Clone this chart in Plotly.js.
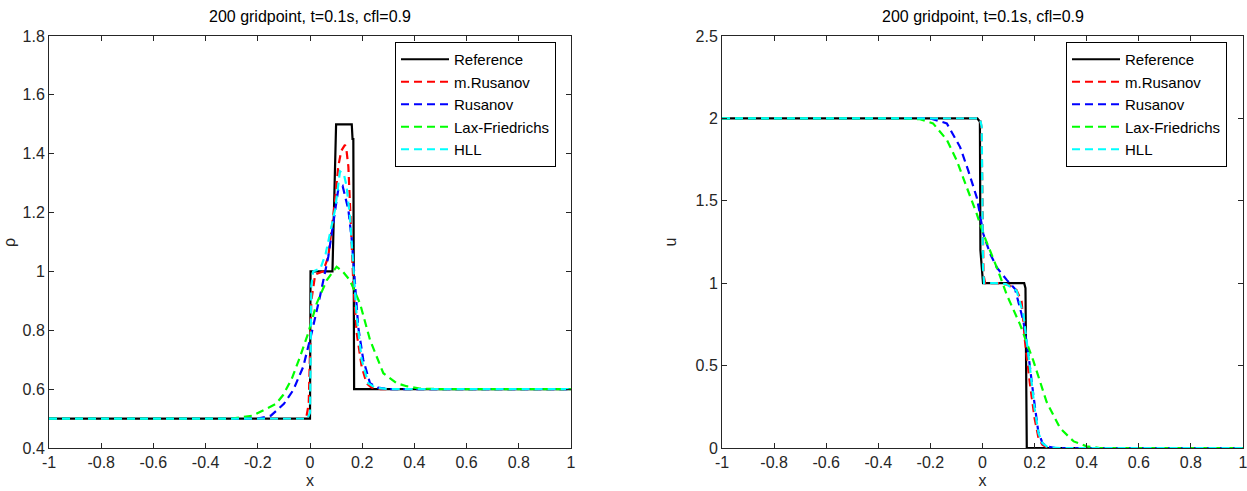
<!DOCTYPE html>
<html>
<head>
<meta charset="utf-8">
<script src="https://cdn.plot.ly/plotly-3.0.1.min.js"></script>
<style>html,body{margin:0;padding:0;background:#fff;}#chart{width:1247px;height:491px;}</style>
</head>
<body>
<div id="chart"></div>
<script>
// ---------- data ----------
const seriesNames = ["Reference", "m.Rusanov", "Rusanov", "Lax-Friedrichs", "HLL"];
const xTickVals = [-1, -0.8, -0.6, -0.4, -0.2, 0, 0.2, 0.4, 0.6, 0.8, 1];
const xTickText = ["-1", "-0.8", "-0.6", "-0.4", "-0.2", "0", "0.2", "0.4", "0.6", "0.8", "1"];
const rhoTickVals = [0.4, 0.6, 0.8, 1, 1.2, 1.4, 1.6, 1.8];
const uTickVals = [0, 0.5, 1, 1.5, 2, 2.5];
const plotTitle = "200 gridpoint, t=0.1s, cfl=0.9";

// density rho
const rhoRefX = [-1, 0, 0.002, 0.086, 0.1, 0.16, 0.163, 0.166, 0.169, 1];
const rhoRefY = [0.5, 0.5, 1.0, 1.0, 1.5, 1.5, 1.45, 1.45, 0.6, 0.6];
const rhoMRusX = [-1, -0.015, -0.005, 0.005, 0.02, 0.05, 0.07, 0.085, 0.096, 0.108, 0.12, 0.134, 0.14, 0.147, 0.157, 0.166, 0.179, 0.198, 0.217, 0.235, 0.27, 1];
const rhoMRusY = [0.5, 0.5, 0.55, 0.9, 0.99, 1.0, 1.05, 1.15, 1.24, 1.356, 1.41, 1.43, 1.41, 1.356, 1.13, 0.96, 0.79, 0.676, 0.62, 0.606, 0.6, 0.6];
const rhoRusX = [-1, -0.2, -0.15, -0.1, -0.064, -0.026, 0.006, 0.038, 0.07, 0.089, 0.108, 0.125, 0.147, 0.16, 0.172, 0.185, 0.204, 0.23, 0.26, 0.3, 1];
const rhoRusY = [0.5, 0.5, 0.51, 0.55, 0.597, 0.676, 0.79, 0.914, 1.05, 1.16, 1.277, 1.29, 1.21, 1.107, 0.948, 0.81, 0.70, 0.62, 0.605, 0.6, 0.6];
const rhoLxfX = [-1, -0.3, -0.22, -0.16, -0.13, -0.103, -0.07, -0.038, -0.007, 0.025, 0.064, 0.102, 0.125, 0.153, 0.192, 0.23, 0.281, 0.332, 0.37, 0.42, 0.5, 1];
const rhoLxfY = [0.5, 0.5, 0.51, 0.535, 0.55, 0.58, 0.635, 0.71, 0.79, 0.89, 0.97, 1.016, 1.0, 0.97, 0.89, 0.767, 0.654, 0.62, 0.61, 0.602, 0.6, 0.6];
const rhoHllX = [-1, -0.01, 0, 0.005, 0.012, 0.04, 0.06, 0.077, 0.096, 0.115, 0.13, 0.14, 0.153, 0.166, 0.179, 0.198, 0.223, 0.25, 0.3, 1];
const rhoHllY = [0.5, 0.5, 0.52, 0.95, 1.0, 1.01, 1.06, 1.13, 1.21, 1.34, 1.33, 1.29, 1.186, 1.016, 0.846, 0.70, 0.62, 0.605, 0.6, 0.6];

// velocity u
const uRefX = [-1, -0.02, -0.01, -0.008, 0.002, 0.16, 0.165, 0.17, 1];
const uRefY = [2, 2, 1.98, 1.2, 1.0, 1.0, 0.97, 0, 0];
const uMRusX = [-1, -0.01, -0.004, 0, 0.004, 0.01, 0.06, 0.1, 0.13, 0.15, 0.163, 0.182, 0.2, 0.215, 0.23, 0.25, 1];
const uMRusY = [2, 2, 1.95, 1.5, 1.05, 1.0, 1.0, 0.99, 0.96, 0.89, 0.65, 0.39, 0.18, 0.06, 0.02, 0, 0];
const uRusX = [-1, -0.2, -0.137, -0.086, -0.054, -0.022, -0.01, 0.003, 0.029, 0.055, 0.093, 0.125, 0.157, 0.176, 0.195, 0.214, 0.23, 0.246, 0.28, 1];
const uRusY = [2, 2, 1.97, 1.826, 1.68, 1.52, 1.42, 1.30, 1.18, 1.095, 1.02, 0.964, 0.77, 0.57, 0.325, 0.10, 0.03, 0.01, 0, 0];
const uLxfX = [-1, -0.3, -0.24, -0.19, -0.137, -0.099, -0.06, -0.022, 0.003, 0.055, 0.093, 0.144, 0.195, 0.246, 0.298, 0.35, 0.4, 0.45, 1];
const uLxfY = [2, 2, 1.995, 1.97, 1.87, 1.745, 1.58, 1.42, 1.30, 1.095, 0.93, 0.75, 0.53, 0.28, 0.12, 0.04, 0.01, 0, 0];
const uHllX = [-1, -0.01, -0.003, 0.002, 0.006, 0.05, 0.09, 0.131, 0.157, 0.17, 0.185, 0.2, 0.215, 0.23, 0.25, 0.3, 1];
const uHllY = [2, 2, 1.95, 1.1, 1.0, 1.0, 0.995, 0.954, 0.81, 0.65, 0.45, 0.24, 0.09, 0.03, 0.005, 0, 0];

// ---------- styling ----------
const colors = ["#000000", "#ff0000", "#0000ff", "#00ff00", "#00ffff"];
const dashes = ["solid", "8px,5px", "8px,5px", "8px,5px", "8px,5px"];
const FONT = "'Liberation Sans Narrow', 'Arial Narrow', 'Liberation Sans', Arial, sans-serif";

const rhoData = [[rhoRefX, rhoRefY], [rhoMRusX, rhoMRusY], [rhoRusX, rhoRusY], [rhoLxfX, rhoLxfY], [rhoHllX, rhoHllY]];
const uData = [[uRefX, uRefY], [uMRusX, uMRusY], [uRusX, uRusY], [uLxfX, uLxfY], [uHllX, uHllY]];

const traces = [];
rhoData.forEach((d, i) => traces.push({
  x: d[0], y: d[1], type: "scatter", mode: "lines", name: seriesNames[i],
  line: {color: colors[i], width: 2.2, dash: dashes[i]},
  xaxis: "x", yaxis: "y", legend: "legend", legendgroup: "a" + i
}));
uData.forEach((d, i) => traces.push({
  x: d[0], y: d[1], type: "scatter", mode: "lines", name: seriesNames[i],
  line: {color: colors[i], width: 2.2, dash: dashes[i]},
  xaxis: "x2", yaxis: "y2", legend: "legend2", legendgroup: "b" + i
}));

const W = 1247, H = 491;
const axCommon = {
  showgrid: false, zeroline: false, showline: true, linecolor: "#262626", linewidth: 1,
  mirror: "allticks", ticks: "inside", ticklen: 5, tickwidth: 1, tickcolor: "#262626",
  ticklabeloverflow: "allow",
  tickfont: {family: FONT, size: 16, color: "#262626"}, fixedrange: true
};
const xCommon = Object.assign({}, axCommon, {
  range: [-1, 1], tickvals: xTickVals, ticktext: xTickText,
  title: {text: "x", font: {family: FONT, size: 16, color: "#262626"}, standoff: 4}
});
const legCommon = {
  bgcolor: "#ffffff", bordercolor: "#000000", borderwidth: 1,
  font: {family: FONT, size: 15, color: "#000000"}, itemwidth: 48,
  xanchor: "left", yanchor: "top", traceorder: "grouped", tracegroupgap: 0
};

const layout = {
  width: W, height: H,
  margin: {l: 0, r: 0, t: 0, b: 0},
  paper_bgcolor: "#ffffff", plot_bgcolor: "#ffffff",
  showlegend: true,
  xaxis: Object.assign({}, xCommon, {domain: [49 / W, 571 / W], anchor: "y"}),
  yaxis: Object.assign({}, axCommon, {
    domain: [(H - 448) / H, (H - 36) / H], anchor: "x", range: [0.4, 1.8], tickvals: rhoTickVals
  }),
  xaxis2: Object.assign({}, xCommon, {domain: [722 / W, 1243 / W], anchor: "y2"}),
  yaxis2: Object.assign({}, axCommon, {
    domain: [(H - 448) / H, (H - 36) / H], anchor: "x2", range: [0, 2.5], tickvals: uTickVals,
    title: {text: "u", font: {family: FONT, size: 16, color: "#262626"}, standoff: 14}
  }),
  legend: Object.assign({}, legCommon, {x: 395 / W, y: (H - 42) / H}),
  legend2: Object.assign({}, legCommon, {x: 1066 / W, y: (H - 42) / H}),
  annotations: [
    {text: plotTitle, xref: "paper", yref: "paper", x: 310 / W, y: (H - 17) / H, xanchor: "center", yanchor: "middle",
     showarrow: false, font: {family: FONT, size: 16, color: "#000000"}},
    {text: plotTitle, xref: "paper", yref: "paper", x: 982.5 / W, y: (H - 17) / H, xanchor: "center", yanchor: "middle",
     showarrow: false, font: {family: FONT, size: 16, color: "#000000"}},
    {text: "ρ", xref: "paper", yref: "paper", x: 9 / W, y: (H - 243) / H, xanchor: "center", yanchor: "middle",
     textangle: -90, showarrow: false, font: {family: FONT, size: 16, color: "#262626"}}
  ]
};

Plotly.newPlot("chart", traces, layout, {displayModeBar: false, staticPlot: true});
</script>
</body>
</html>
